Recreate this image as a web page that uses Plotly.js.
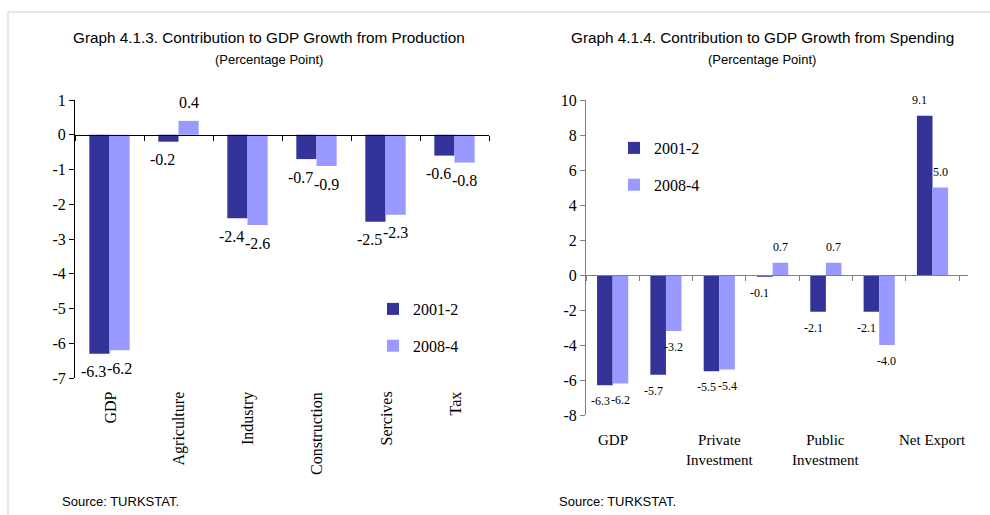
<!DOCTYPE html>
<html>
<head>
<meta charset="utf-8">
<script src="https://cdn.plot.ly/plotly-3.0.1.min.js"></script>
<style>
  html, body { margin: 0; padding: 0; background: #ffffff; }
  #chart { width: 990px; height: 515px; }
</style>
</head>
<body>
<div id="chart"></div>
<script>
// Contribution to GDP growth, production side (percentage points)
const prodCategories = ['GDP', 'Agriculture', 'Industry', 'Construction', 'Sercives', 'Tax'];
const prod2001 = [-6.3, -0.2, -2.4, -0.7, -2.5, -0.6];
const prod2008 = [-6.2, 0.4, -2.6, -0.9, -2.3, -0.8];
const prodTickVals = [1, 0, -1, -2, -3, -4, -5, -6, -7];
const prodTickText = ['1', '0', '-1', '-2', '-3', '-4', '-5', '-6', '-7'];

// Contribution to GDP growth, spending side (percentage points)
const spendCategories = ['GDP', 'Private Consumption', 'Private Investment', 'Public Consumption',
                         'Public Investment', 'Stock Change', 'Net Export'];
const spendLabels = ['GDP', '', 'Private<br>Investment', '', 'Public<br>Investment', '', 'Net Export'];
const spend2001 = [-6.3, -5.7, -5.5, -0.1, -2.1, -2.1, 9.1];
const spend2008 = [-6.2, -3.2, -5.4, 0.7, 0.7, -4.0, 5.0];
const spendTickVals = [10, 8, 6, 4, 2, 0, -2, -4, -6, -8];
const spendTickText = ['10', '8', '6', '4', '2', '0', '-2', '-4', '-6', '-8'];

const seriesNames = ['2001-2', '2008-4'];
const seriesColors = ['#333399', '#9999FF'];

// ---- page geometry helpers (pixels -> paper fractions) ----
const W = 990, H = 515;
const px = v => v / W;
const py = v => 1 - v / H;

const SERIF = '"Liberation Serif", "Times New Roman", Times, serif';
const SANS = '"Liberation Sans", Arial, Helvetica, sans-serif';

const BARGAP = 0.415;
const prodRange = [-7, 1];
const spendRange = [-8, 10];
const prodXDom = [px(75), px(489)];
const prodYDom = [py(378), py(100)];
const spendXDom = [px(586), px(968)];
const spendYDom = [py(415), py(100)];

// paper y at which value 0 falls, so the category axis runs along the zero line
function zeroPos(dom, range) {
  return dom[0] + (0 - range[0]) / (range[1] - range[0]) * (dom[1] - dom[0]);
}

function barTrace(cats, vals, i, xa, ya, legendId, group) {
  return {
    type: 'bar',
    x: cats,
    y: vals,
    name: seriesNames[i],
    xaxis: xa,
    yaxis: ya,
    legend: legendId,
    legendgroup: group,
    marker: { color: seriesColors[i], line: { width: 0 } },
    hoverinfo: 'skip'
  };
}

const data = [
  barTrace(prodCategories, prod2001, 0, 'x', 'y', 'legend', 'p1'),
  barTrace(prodCategories, prod2008, 1, 'x', 'y', 'legend', 'p2'),
  barTrace(spendCategories, spend2001, 0, 'x2', 'y2', 'legend2', 's1'),
  barTrace(spendCategories, spend2008, 1, 'x2', 'y2', 'legend2', 's2')
];

const annotations = [];
function addText(text, x, y, size, family, xanchor) {
  annotations.push({
    text: text, x: x, y: y, xref: 'paper', yref: 'paper',
    xanchor: xanchor || 'center', yanchor: 'middle', showarrow: false,
    font: { family: family, size: size, color: '#000000' }
  });
}

// value labels: placed at each bar (category index +/- half a bar), just past its end
const barHalf = (1 - BARGAP) / 4;
function valueLabels(vals, seriesIdx, xref, yref, size, gap) {
  vals.forEach((v, k) => {
    const offset = seriesIdx === 0 ? -barHalf - 0.09 : barHalf;
    annotations.push({
      text: v.toFixed(1), x: k + offset, y: v, xref: xref, yref: yref,
      xanchor: 'center', yanchor: 'middle', yshift: v < 0 ? -gap : gap,
      showarrow: false, font: { family: SERIF, size: size, color: '#000000' }
    });
  });
}
valueLabels(prod2001, 0, 'x', 'y', 16, 18);
valueLabels(prod2008, 1, 'x', 'y', 16, 18);
valueLabels(spend2001, 0, 'x2', 'y2', 12, 16);
valueLabels(spend2008, 1, 'x2', 'y2', 12, 16);

// chart titles and notes
addText('Graph 4.1.3. Contribution to GDP Growth from Production', px(269), py(37), 15.3, SANS);
addText('(Percentage Point)', px(269), py(60), 13, SANS);
addText('Graph 4.1.4. Contribution to GDP Growth from Spending', px(762), py(37), 15.3, SANS);
addText('(Percentage Point)', px(762), py(60), 13, SANS);
addText('Source: TURKSTAT.', px(60), py(501), 13, SANS, 'left');
addText('Source: TURKSTAT.', px(557), py(501), 13, SANS, 'left');

// category labels under each chart
prodCategories.forEach(c => {
  annotations.push({
    text: c, x: c, y: py(390), xref: 'x', yref: 'paper',
    xanchor: 'center', yanchor: 'top', textangle: -90, showarrow: false,
    font: { family: SERIF, size: 16, color: '#000000' }
  });
});
spendCategories.forEach((c, i) => {
  if (!spendLabels[i]) return;
  annotations.push({
    text: spendLabels[i], x: c, y: py(430), xref: 'x2', yref: 'paper',
    xanchor: 'center', yanchor: 'top', showarrow: false,
    font: { family: SERIF, size: 15, color: '#000000' }
  });
});

function catAxis(dom, yDom, yRange, color) {
  return {
    domain: dom,
    type: 'category',
    anchor: 'free',
    position: zeroPos(yDom, yRange),
    side: 'bottom',
    showline: true, linecolor: color, linewidth: 1,
    ticks: 'outside', tickson: 'boundaries', ticklen: 5, tickcolor: color, tickwidth: 1,
    showticklabels: false, showgrid: false, zeroline: false, fixedrange: true
  };
}
function valAxis(dom, range, vals, text, anchor, color) {
  return {
    domain: dom, range: range, anchor: anchor,
    tickvals: vals, ticktext: text,
    showline: true, linecolor: color, linewidth: 1,
    ticks: 'outside', ticklen: 5, tickcolor: color, tickwidth: 1,
    tickfont: { family: SERIF, size: 16, color: '#000000' },
    showgrid: false, zeroline: false, fixedrange: true
  };
}

const legendStyle = (x, y) => ({
  x: x, y: y, xanchor: 'left', yanchor: 'top',
  traceorder: 'grouped', tracegroupgap: 13, borderwidth: 0, bgcolor: 'rgba(0,0,0,0)',
  font: { family: SERIF, size: 16, color: '#000000' }
});

const layout = {
  width: W, height: H,
  margin: { l: 0, r: 0, t: 0, b: 0 },
  paper_bgcolor: '#ffffff', plot_bgcolor: 'rgba(0,0,0,0)',
  barmode: 'group', bargap: BARGAP, bargroupgap: 0,
  showlegend: true,
  xaxis: catAxis(prodXDom, prodYDom, prodRange, '#000000'),
  yaxis: valAxis(prodYDom, prodRange, prodTickVals, prodTickText, 'x', '#000000'),
  xaxis2: catAxis(spendXDom, spendYDom, spendRange, '#808080'),
  yaxis2: valAxis(spendYDom, spendRange, spendTickVals, spendTickText, 'x2', '#808080'),
  legend: legendStyle(px(373), py(292)),
  legend2: legendStyle(px(614), py(131)),
  annotations: annotations,
  shapes: [
    { type: 'line', xref: 'paper', yref: 'paper', x0: px(8), x1: 1, y0: py(12), y1: py(12),
      line: { color: '#ebe7d9', width: 2 } },
    { type: 'line', xref: 'paper', yref: 'paper', x0: px(8), x1: px(8), y0: py(12), y1: 0,
      line: { color: '#ebe7d9', width: 2 } }
  ]
};

Plotly.newPlot('chart', data, layout, { staticPlot: true, displayModeBar: false });
</script>
</body>
</html>
